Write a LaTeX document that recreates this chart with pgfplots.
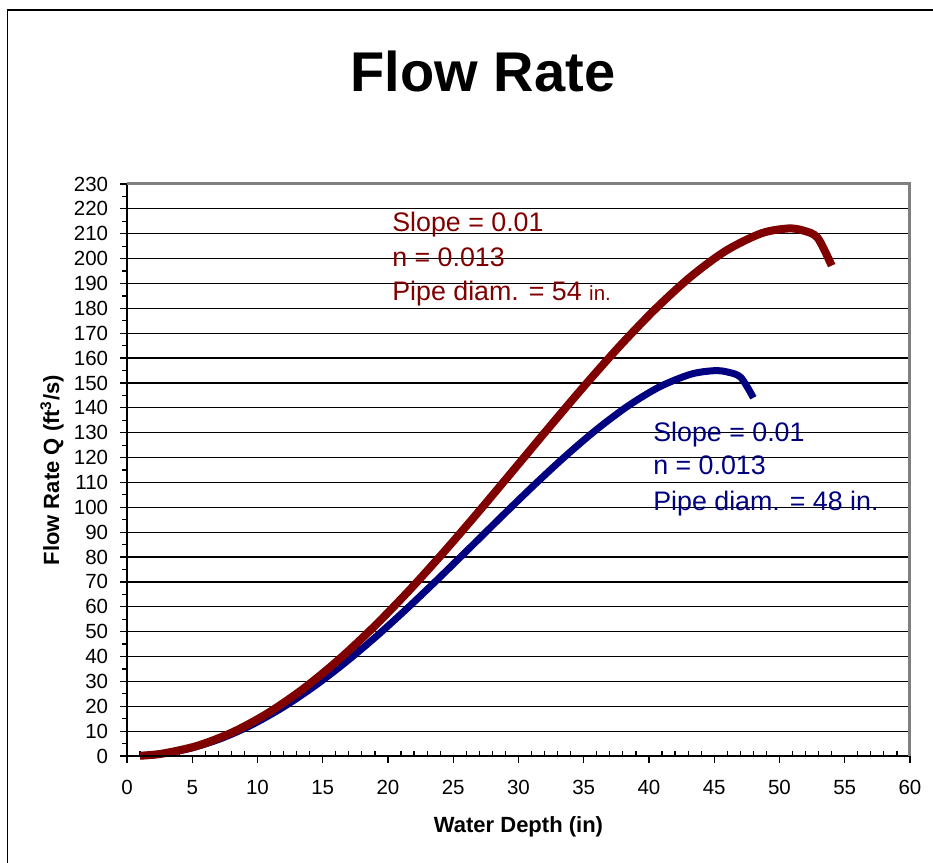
\documentclass[border=0pt]{standalone}
\usepackage{fontspec}
\setmainfont{Liberation Sans}
\usepackage{pgfplots}
\pgfplotsset{compat=1.18}
\definecolor{redline}{HTML}{800000}
\definecolor{blueline}{HTML}{000080}
\definecolor{bordergray}{HTML}{808080}
\begin{document}
\begin{tikzpicture}
\useasboundingbox (-63.5bp,-53.5bp) rectangle (403bp,378bp);
\fill[white] (-63.5bp,-53.5bp) rectangle (403bp,378bp);
\draw[line width=0.75bp] (-59.75bp,-60bp) -- (-59.75bp,373bp) -- (410bp,373bp);
\begin{axis}[
  at={(0,0)}, anchor=south west,
  scale only axis, width=391.5bp, height=286bp,
  xmin=0, xmax=60, ymin=0, ymax=230,
  xtick={0,5,...,60}, ytick={0,10,...,230},
  minor x tick num=4, minor y tick num=1,
  xtick pos=bottom, ytick pos=left,
  tick align=outside,
  major tick length=3.25bp, minor tick length=2.4bp,
  tick style={black, line width=0.6bp},
  minor x tick style={yshift=2.4bp},
  ymajorgrids, grid style={black, line width=0.6bp},
  axis line style={draw=none},
  clip=false,
  /pgf/number format/assume math mode=true,
  x tick label style={font=\fontsize{10.25bp}{12bp}\selectfont, anchor=north, inner sep=0pt, yshift=-8.5bp},
  y tick label style={font=\fontsize{10.25bp}{12bp}\selectfont, anchor=east, inner sep=0pt, xshift=-6bp},
]
\addplot[blueline, line width=3.5bp, smooth] coordinates {
(1,0.11) (2.4,0.69) (4.8,3.01) (7.2,7.00) (9.6,12.61) (12.0,19.73)
(14.4,28.21) (16.8,37.87) (19.2,48.54) (21.6,59.99) (24.0,72.02)
(26.4,84.36) (28.8,96.77) (31.2,108.95) (33.6,120.59) (36.0,131.34)
(38.4,140.78) (40.8,148.41) (43.2,153.51) (45.02,154.94) (46.08,154.31)
(47.04,152.20) (48,144.03)
};
\addplot[redline, line width=4bp, smooth] coordinates {
(1,0.11) (2.7,0.95) (5.4,4.12) (8.1,9.58) (10.8,17.27) (13.5,27.01)
(16.2,38.62) (18.9,51.85) (21.6,66.45) (24.3,82.13) (27.0,98.59)
(29.7,115.49) (32.4,132.47) (35.1,149.15) (37.8,165.09) (40.5,179.80)
(43.2,192.74) (45.9,203.18) (48.6,210.15) (50.65,212.11) (51.84,211.25)
(52.92,208.36) (54,197.18)
};
\draw[black, line width=0.75bp] (rel axis cs:0,1) -- (rel axis cs:0,0) -- (rel axis cs:1,0);
\draw[bordergray, line width=1.5bp] (rel axis cs:0,1) -- (rel axis cs:1,1) -- (rel axis cs:1,0);
\begin{scope}[every node/.style={anchor=base west, inner sep=0pt, font=\fontsize{13.4bp}{16bp}\selectfont}]
\node[text=redline] at (axis cs:20.3,210.7) {Slope = 0.01};
\node[text=redline] at (axis cs:20.3,197.0) {n = 0.013};
\node[text=redline] at (axis cs:20.3,183.3) {Pipe diam. = 54 {\fontsize{10.25bp}{12bp}\selectfont in.}};
\node[text=blueline] at (axis cs:40.3,126.3) {Slope = 0.01};
\node[text=blueline] at (axis cs:40.3,113.0) {n = 0.013};
\node[text=blueline] at (axis cs:40.3,98.9) {Pipe diam. = 48 in.};
\end{scope}
\end{axis}
\node[font=\fontsize{28bp}{32bp}\selectfont\bfseries] at (178bp,342.5bp) {Flow Rate};
\node[anchor=base, font=\fontsize{11bp}{13bp}\selectfont\bfseries] at (195.75bp,-38bp) {Water Depth (in)};
\node[rotate=90, font=\fontsize{11bp}{13bp}\selectfont\bfseries] at (-37.5bp,143bp) {Flow Rate Q (ft\textsuperscript{3}/s)};
\end{tikzpicture}
\end{document}
